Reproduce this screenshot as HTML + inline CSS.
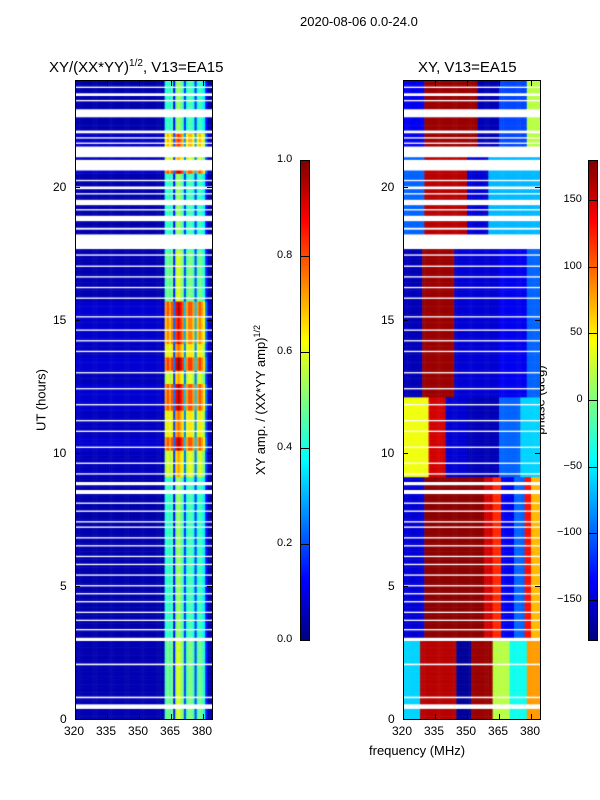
<!DOCTYPE html>
<html><head><meta charset="utf-8">
<style>
body{margin:0;width:600px;height:800px;background:#fff;position:relative;font-family:"Liberation Sans",sans-serif;overflow:hidden}
.abs{position:absolute}
.t{position:absolute;font-size:12px;color:#000;white-space:nowrap}
.frame{position:absolute;border:1px solid #000;box-sizing:border-box}
</style></head><body>
<div class="t" style="left:300px;top:14px;font-size:13px">2020-08-06 0.0-24.0</div>
<div class="t" style="left:49px;top:58px;font-size:15px">XY/(XX*YY)<sup style="font-size:10px">1/2</sup>, V13=EA15</div>
<div class="t" style="left:418px;top:59px;font-size:15px">XY, V13=EA15</div>
<div class="t" style="left:41px;top:400px;transform:translate(-50%,-50%) rotate(-90deg);font-size:13px">UT (hours)</div>
<div class="t" style="left:369px;top:743px;font-size:13px">frequency (MHz)</div>
<div class="t" style="left:260px;top:400px;transform:translate(-50%,-50%) rotate(-90deg);font-size:13px">XY amp. / (XX*YY amp)<sup style="font-size:9px">1/2</sup></div>
<div class="t" style="left:540px;top:400px;transform:translate(-50%,-50%) rotate(-90deg);font-size:13px">phase (deg)</div>
<canvas id="cL" class="abs" width="137" height="639" style="left:75px;top:80px"></canvas>
<canvas id="cR" class="abs" width="137" height="639" style="left:403px;top:80px"></canvas>
<div class="frame" style="left:75px;top:80px;width:138px;height:640px"></div>
<div class="frame" style="left:403px;top:80px;width:138px;height:640px"></div>
<canvas id="cb1" class="abs" width="10" height="480" style="left:300px;top:160px"></canvas>
<canvas id="cb2" class="abs" width="10" height="480" style="left:588px;top:160px"></canvas>
<div class="frame" style="left:300px;top:160px;width:10px;height:481px"></div>
<div class="frame" style="left:588px;top:160px;width:10px;height:481px"></div>
<div id="ticks"></div>
<script>
// ---- data ----
const freqLo = 320, freqHi = 384.2, tLo = 0, tHi = 24;
const xTicks = [320, 335, 350, 365, 380];
const yTicks = [0, 5, 10, 15, 20];
const cb1Ticks = [0.0, 0.2, 0.4, 0.6, 0.8, 1.0];
const cb2Ticks = [-150, -100, -50, 0, 50, 100, 150];
// amplitude per 1 MHz channel (320..383)
const ampChannels = [0.05,0.05,0.05,0.05,0.05,0.05,0.05,0.05,0.05,0.05,0.05,0.05,0.05,0.05,0.05,0.05,0.05,0.05,0.05,0.05,0.05,0.05,0.05,0.05,0.05,0.05,0.05,0.05,0.05,0.05,0.05,0.05,0.05,0.05,0.05,0.05,0.05,0.05,0.05,0.05,0.05,0.05,
 0.45,0.5,0.45,0.5,0.15,0.55,0.6,0.55,0.5,0.2,0.45,0.5,0.5,0.45,0.2,0.45,0.5,0.45,0.4,0.15,0.05,0.05];
// time gain segments [start,end,gain]
const ampGain = [[0,3,1.0],[3,9,0.9],[9,10,1.2],[10,10.5,1.6],[10.5,11.5,1.3],[11.5,12.5,1.6],[12.5,13,1.2],[13,13.5,1.65],[13.5,14,1.3],[14,15,1.5],[15,15.6,1.6],[15.6,17.5,1.0],[17.5,20.5,0.9],[20.5,21,1.6],[21,21.5,1.2],[21.5,22,1.4],[22,24,0.9]];
// flagged (blank) intervals in hours
const flags = [[0.38,0.55],[0.78,0.84],[2.02,2.08],[2.93,3.05],[3.33,3.38],[3.68,3.73],[3.98,4.03],[4.38,4.43],[4.68,4.73],[4.98,5.03],[5.38,5.43],[5.78,5.83],[6.08,6.13],[6.48,6.53],[6.78,6.83],[7.18,7.23],[7.38,7.43],[7.78,7.83],[8.08,8.13],[8.45,8.6],[8.78,8.9],[9.18,9.23],[9.58,9.63],[10.18,10.23],[10.78,10.83],[11.18,11.23],[11.78,11.83],[12.38,12.43],[12.98,13.03],[13.78,13.83],[14.18,14.23],[14.58,14.63],[15.08,15.13],[15.78,15.83],[16.18,16.23],[16.58,16.63],[16.98,17.03],[17.4,17.45],[17.65,18.2],[18.38,18.45],[18.7,18.9],[19.1,19.15],[19.3,19.5],[19.7,19.75],[19.9,20.0],[20.2,20.25],[20.6,21.0],[21.1,21.5],[21.6,21.65],[21.8,21.85],[22.0,22.1],[22.6,22.9],[23.2,23.25],[23.4,23.5],[23.7,23.75]];
// phase regimes: [tStart,tEnd,[[f0,f1,phase],...]]
const phaseA = [[320,328,-60],[328,345,160],[345,352,-170],[352,362,170],[362,370,20],[370,378,-40],[378,385,80]];
const phaseB = [[320,330,-150],[330,358,175],[358,362,150],[362,366,120],[366,372,-140],[372,377,-100],[377,380,130],[380,385,70]];
const phaseC = [[320,332,40],[332,340,150],[340,350,-150],[350,365,-160],[365,375,-100],[375,385,-60]];
const phaseD = [[320,329,-160],[329,344,170],[344,365,-150],[365,378,-140],[378,385,-100]];
const phaseE = [[320,330,-100],[330,350,160],[350,360,-150],[360,385,-70]];
const phaseF = [[320,330,-140],[330,355,170],[355,365,-160],[365,378,-110],[378,385,20]];
const phaseSegs = [[0,3,phaseA],[3,9,phaseB],[9,12,phaseC],[12,18,phaseD],[18,21.5,phaseE],[21.5,24,phaseF]];

// ---- helpers ----
function jet(v){v=Math.max(0,Math.min(1,v));
 const r=Math.max(0,Math.min(1,1.5-Math.abs(4*v-3))),g=Math.max(0,Math.min(1,1.5-Math.abs(4*v-2))),b=Math.max(0,Math.min(1,1.5-Math.abs(4*v-1)));
 return `rgb(${r*255|0},${g*255|0},${b*255|0})`;}
const W=137,H=639;
const xS=f=>(f-freqLo)/(freqHi-freqLo)*W;
const yS=t=>H-(t-tLo)/(tHi-tLo)*H;
function seg(list,t){for(const s of list) if(t>=s[0]&&t<s[1]) return s; return null;}
const dt=0.1;
const L=document.getElementById('cL').getContext('2d');
const R=document.getElementById('cR').getContext('2d');
for(let t=0;t<24;t+=dt){
 const g=seg(ampGain,t); const gain=g?g[2]:1;
 const ps=seg(phaseSegs,t);
 for(let i=0;i<ampChannels.length;i++){
  const f=freqLo+i;
  L.fillStyle=jet(ampChannels[i]*gain);
  L.fillRect(xS(f),yS(t+dt),xS(f+1)-xS(f)+0.5,yS(t)-yS(t+dt)+0.5);
  let ph=0; if(ps) for(const p of ps[2]) if(f>=p[0]&&f<p[1]) ph=p[2];
  R.fillStyle=jet((ph+180)/360);
  R.fillRect(xS(f),yS(t+dt),xS(f+1)-xS(f)+0.5,yS(t)-yS(t+dt)+0.5);
 }
}
for(const fl of flags){
 L.fillStyle='#fff';R.fillStyle='#fff';
 L.fillRect(0,yS(fl[1]),W,yS(fl[0])-yS(fl[1]));
 R.fillRect(0,yS(fl[1]),W,yS(fl[0])-yS(fl[1]));
}
const c1=document.getElementById('cb1').getContext('2d'),c2=document.getElementById('cb2').getContext('2d');
for(let y=0;y<480;y++){c1.fillStyle=jet(1-y/480);c1.fillRect(0,y,10,1);c2.fillStyle=jet(1-y/480);c2.fillRect(0,y,10,1);}
// ticks
const tk=document.getElementById('ticks');
function el(css,txt,name){const d=document.createElement('div');d.className=txt!==null?'t':'abs';d.style.cssText=css;if(txt!==null)d.textContent=txt;
 
 
 tk.appendChild(d);}
for(const ox of [75,403]){
 for(const v of xTicks){const x=ox+xS(v);
  el(`left:${x}px;top:714px;width:1px;height:5px;background:#000`,null,'x-tick');
  el(`left:${x}px;top:81px;width:1px;height:5px;background:#000`,null,'x-tick');
  el(`left:${x-11}px;top:724px`,String(v),'x-tick-label');}
 for(const v of yTicks){const y=80+yS(v);
  el(`left:${ox}px;top:${y}px;width:5px;height:1px;background:#000`,null,'y-tick');
  el(`left:${ox+132}px;top:${y}px;width:5px;height:1px;background:#000`,null,'y-tick');
  el(`left:${ox-8-(String(v).length*7)}px;top:${y-7}px`,String(v),'y-tick-label');}
}
for(const v of cb1Ticks){const y=160+480-(v/1)*480;
 el(`left:300px;top:${y}px;width:10px;height:1px;background:#000`,null,'colorbar1-tick');
 el(`left:277px;top:${y-7}px;font-size:11px`,v.toFixed(1),'colorbar1-tick-label');}
for(const v of cb2Ticks){const y=160+480-((v+180)/360)*480;
 el(`left:588px;top:${y}px;width:10px;height:1px;background:#000`,null,'colorbar2-tick');
 el(`left:${583-String(v).length*6.5}px;top:${y-7}px;font-size:11px`,(v<0?'\u2212'+(-v):String(v)),'colorbar2-tick-label');}
</script>
</body></html>
